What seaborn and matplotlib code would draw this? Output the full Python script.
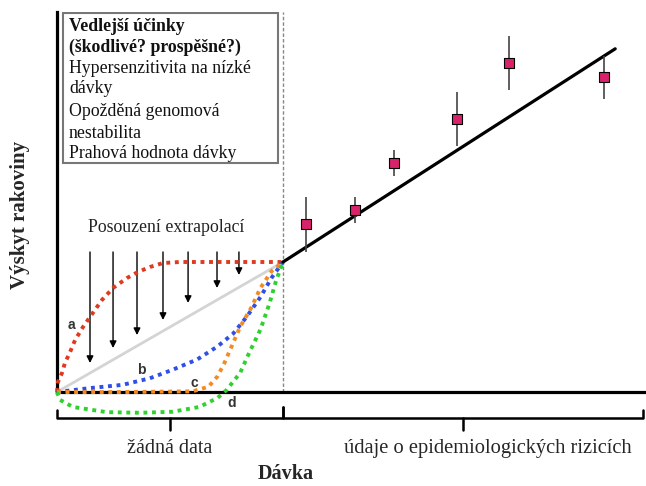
import numpy as np
import pandas as pd
import matplotlib
matplotlib.use("Agg")
import matplotlib.pyplot as plt
import seaborn as sns
from matplotlib.patches import Rectangle

# observed epidemiological data (dose, incidence, error)
obs_dose = [1.10, 1.32, 1.49, 1.77, 2.00, 2.42]
obs_inc = [1.29, 1.40, 1.76, 2.10, 2.53, 2.42]
obs_err = [0.21, 0.10, 0.10, 0.21, 0.21, 0.165]

# linear fit through the data
fit_dose = [1.0, 2.47]
fit_inc = [1.0, 2.64]

# extrapolation curves below the data range
a_dose = [0, 0.004, 0.022, 0.035, 0.058, 0.08, 0.115, 0.146, 0.199, 0.248, 0.31, 0.358, 0.412, 0.469, 0.544, 0.66, 1.0]
a_inc = [0, 0.077, 0.146, 0.223, 0.308, 0.40, 0.50, 0.577, 0.708, 0.80, 0.877, 0.923, 0.962, 0.992, 1.0, 1.0, 1.0]
b_dose = [0, 0.146, 0.29, 0.41, 0.51, 0.62, 0.71, 0.78, 0.84, 0.90, 0.95, 1.0]
b_inc = [0, 0.03, 0.055, 0.105, 0.17, 0.25, 0.35, 0.45, 0.58, 0.73, 0.88, 1.0]
c_dose = [0, 0.3, 0.6, 0.67, 0.71, 0.74, 0.77, 0.81, 0.86, 0.90, 0.95, 1.0]
c_inc = [0, 0.0, 0.005, 0.04, 0.12, 0.22, 0.34, 0.50, 0.65, 0.80, 0.93, 1.0]
d_dose = [0, 0.013, 0.07, 0.22, 0.37, 0.51, 0.63, 0.71, 0.75, 0.81, 0.85, 0.90, 0.94, 0.97, 1.0]
d_inc = [0, -0.06, -0.115, -0.155, -0.16, -0.152, -0.115, -0.046, 0.015, 0.146, 0.30, 0.48, 0.68, 0.86, 1.0]
lnt_dose = [0, 1.0]
lnt_inc = [0, 1.0]

# extrapolation arrows
arrow_dose = [0.146, 0.248, 0.354, 0.469, 0.58, 0.708, 0.805]
arrow_top = 1.077
arrow_end = [0.223, 0.338, 0.438, 0.554, 0.685, 0.80, 0.90]

box_lines = ["Vedlejší účinky", "(škodlivé? prospěšné?)", "Hypersenzitivita na nízké",
             "dávky", "Opožděná genomová", "nestabilita", "Prahová hodnota dávky"]

curves = pd.concat([
    pd.DataFrame({"dose": a_dose, "inc": a_inc, "curve": "a"}),
    pd.DataFrame({"dose": b_dose, "inc": b_inc, "curve": "b"}),
    pd.DataFrame({"dose": c_dose, "inc": c_inc, "curve": "c"}),
    pd.DataFrame({"dose": d_dose, "inc": d_inc, "curve": "d"}),
])
palette = {"a": "#e03a1e", "b": "#2f4fe6", "c": "#f58a23", "d": "#2fd12f"}

sns.set_theme(style="white")
plt.rcParams["font.family"] = ["Liberation Serif", "DejaVu Serif"]

fig = plt.figure(figsize=(6.46, 4.86), dpi=100)
ax = fig.add_axes([57 / 646, 94 / 486, 588 / 646, 380 / 486])
ax.set_xlim(0, 588 / 226)
ax.set_ylim(0, 380 / 130)
ax.set_xticks([])
ax.set_yticks([])
for s in ["top", "right"]:
    ax.spines[s].set_visible(False)
for s in ["left", "bottom"]:
    ax.spines[s].set_linewidth(2.3)
    ax.spines[s].set_color("black")
    ax.spines[s].set_zorder(3)

ax.axvline(1.0, color="#888888", lw=1.0, ls=(0, (2.5, 1.5)), zorder=1)

sns.lineplot(x=lnt_dose, y=lnt_inc, ax=ax, color="#d4d4d4", lw=2, zorder=2)

sns.lineplot(data=curves, x="dose", y="inc", hue="curve", palette=palette,
             estimator=None, sort=False, legend=False, ax=ax, lw=2.8,
             linestyle=(0, (1, 1.2)), clip_on=False, zorder=4)

for x0, y1 in zip(arrow_dose, arrow_end):
    ax.annotate("", xy=(x0, y1), xytext=(x0, arrow_top),
                arrowprops=dict(arrowstyle="-|>", color="black", lw=1.0,
                                mutation_scale=10, shrinkA=0, shrinkB=0))

sns.lineplot(x=fit_dose, y=fit_inc, ax=ax, color="black", lw=2.3, zorder=5)
ax.errorbar(obs_dose, obs_inc, yerr=obs_err, fmt="none", ecolor="#444444",
            elinewidth=1.2, zorder=6)
sns.scatterplot(x=obs_dose, y=obs_inc, ax=ax, marker="s", s=60,
                color="#d8236b", edgecolor="black", linewidth=0.8, zorder=7)

# text box
ax.add_patch(Rectangle((0.027, 1.762), 0.951, 1.153, fill=False,
                       edgecolor="#777777", lw=1.5, zorder=3))
line_y = [2.808, 2.654, 2.492, 2.338, 2.154, 1.992, 1.831]
for i, (t, yy) in enumerate(zip(box_lines, line_y)):
    ax.text(0.053, yy, t, fontsize=12.8, va="center", ha="left",
            fontweight="bold" if i < 2 else "normal", color="#111111")

ax.text(0.482, 1.269, "Posouzení extrapolací", fontsize=12.8, ha="center", va="center",
        color="#222222")

for lab, xx, yy in [("a", 0.066, 0.515), ("b", 0.372, 0.17), ("c", 0.606, 0.07), ("d", 0.774, -0.085)]:
    ax.text(xx, yy, lab, fontsize=10, fontweight="bold", ha="center", va="center",
            family=["Liberation Sans", "DejaVu Sans"], color="#333333")

# braces under the x axis
brace_kw = dict(color="black", lw=1.8, clip_on=False, solid_joinstyle="round")
ax.plot([0, 0, 1.0, 1.0], [-0.138, -0.2, -0.2, -0.115], **brace_kw)
ax.plot([1.0, 1.0, 2.593, 2.593], [-0.115, -0.2, -0.2, -0.138], **brace_kw)
ax.plot([0.5, 0.5], [-0.2, -0.292], **brace_kw)
ax.plot([1.796, 1.796], [-0.2, -0.292], **brace_kw)

ax.text(0.5, -0.431, "žádná data", fontsize=14.5, ha="center", va="center")
ax.text(1.907, -0.431, "údaje o epidemiologických rizicích", fontsize=14.8,
        ha="center", va="center")
ax.text(1.013, -0.631, "Dávka", fontsize=14.5, fontweight="bold", ha="center", va="center")
ax.text(-0.164, 1.362, "Výskyt rakoviny", fontsize=15, fontweight="bold",
        rotation=90, ha="center", va="center")

fig.savefig("out.png", dpi=100)
